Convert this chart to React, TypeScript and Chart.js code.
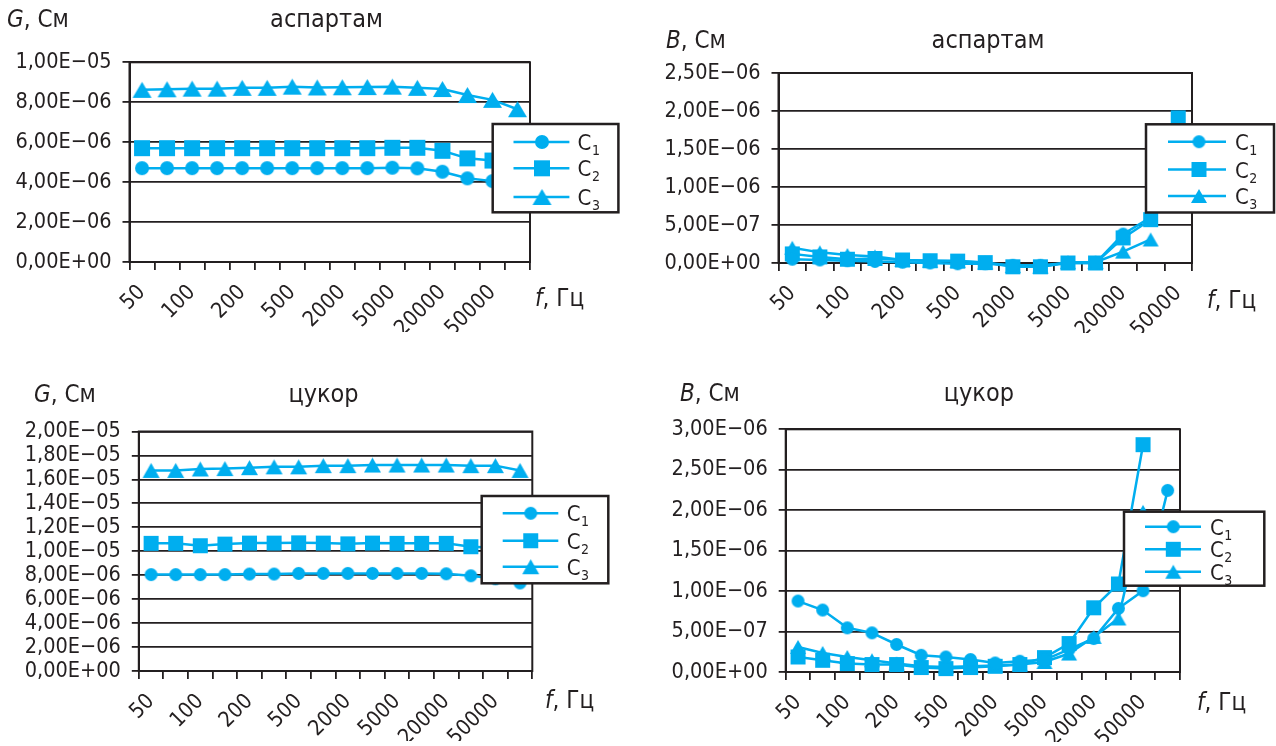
import React, { useEffect, useRef } from 'react';
import { Chart, registerables } from 'chart.js';

Chart.register(...registerables);

const FONT = "'DejaVu Sans Condensed', 'DejaVu Sans', sans-serif";
const BLUE = '#00aeef';
const INK = '#231f20';

// ---------- data ----------
const freq16 = ['50', '70', '100', '150', '200', '300', '500', '1000', '2000', '3000', '5000', '10000', '20000', '30000', '50000', '100000'];
const freq15 = ['50', '70', '100', '150', '200', '300', '500', '1000', '2000', '3000', '5000', '10000', '20000', '30000', '50000'];
const shownTicks = ['50', '100', '200', '500', '2000', '5000', '20000', '50000'];
const seriesNames = ['C', 'C', 'C'];
const seriesSubs = ['1', '2', '3'];

// G, aspartame (S)
const gAspC1 = [4.70e-6, 4.70e-6, 4.70e-6, 4.70e-6, 4.70e-6, 4.70e-6, 4.70e-6, 4.70e-6, 4.70e-6, 4.70e-6, 4.72e-6, 4.69e-6, 4.52e-6, 4.19e-6, 4.05e-6, 3.90e-6];
const gAspC2 = [5.70e-6, 5.70e-6, 5.70e-6, 5.70e-6, 5.70e-6, 5.70e-6, 5.70e-6, 5.70e-6, 5.70e-6, 5.70e-6, 5.72e-6, 5.72e-6, 5.57e-6, 5.19e-6, 5.08e-6, 4.95e-6];
const gAspC3 = [8.62e-6, 8.65e-6, 8.68e-6, 8.68e-6, 8.72e-6, 8.72e-6, 8.78e-6, 8.74e-6, 8.75e-6, 8.76e-6, 8.78e-6, 8.72e-6, 8.66e-6, 8.36e-6, 8.12e-6, 7.65e-6];

// B, aspartame (S)
const bAspC1 = [0.05e-6, 0.04e-6, 0.03e-6, 0.02e-6, 0.01e-6, 0.0, -0.01e-6, -0.01e-6, -0.03e-6, -0.03e-6, 0.0, 0.0, 0.38e-6, 0.60e-6, null];
const bAspC2 = [0.12e-6, 0.08e-6, 0.05e-6, 0.06e-6, 0.04e-6, 0.03e-6, 0.025e-6, 0.005e-6, -0.05e-6, -0.05e-6, 0.0, 0.0, 0.33e-6, 0.57e-6, 1.91e-6];
const bAspC3 = [0.20e-6, 0.14e-6, 0.105e-6, 0.085e-6, 0.04e-6, 0.03e-6, 0.025e-6, 0.005e-6, -0.04e-6, -0.05e-6, 0.01e-6, 0.01e-6, 0.15e-6, 0.31e-6, null];

// G, sugar (S)
const gSugC1 = [8.05e-6, 8.05e-6, 8.05e-6, 8.05e-6, 8.10e-6, 8.10e-6, 8.15e-6, 8.15e-6, 8.15e-6, 8.15e-6, 8.15e-6, 8.15e-6, 8.12e-6, 7.95e-6, 7.70e-6, 7.35e-6];
const gSugC2 = [10.66e-6, 10.66e-6, 10.46e-6, 10.60e-6, 10.68e-6, 10.68e-6, 10.70e-6, 10.68e-6, 10.62e-6, 10.68e-6, 10.66e-6, 10.66e-6, 10.66e-6, 10.38e-6, 10.30e-6, 10.20e-6];
const gSugC3 = [16.75e-6, 16.75e-6, 16.87e-6, 16.90e-6, 16.98e-6, 17.05e-6, 17.05e-6, 17.15e-6, 17.15e-6, 17.20e-6, 17.20e-6, 17.20e-6, 17.20e-6, 17.15e-6, 17.15e-6, 16.75e-6];

// B, sugar (S)
const bSugC1 = [0.877e-6, 0.766e-6, 0.546e-6, 0.484e-6, 0.34e-6, 0.207e-6, 0.186e-6, 0.154e-6, 0.112e-6, 0.133e-6, 0.15e-6, 0.28e-6, 0.414e-6, 0.786e-6, 1.005e-6, 2.245e-6];
const bSugC2 = [0.186e-6, 0.145e-6, 0.104e-6, 0.092e-6, 0.092e-6, 0.055e-6, 0.042e-6, 0.055e-6, 0.071e-6, 0.092e-6, 0.178e-6, 0.352e-6, 0.794e-6, 1.088e-6, 2.81e-6, null];
const bSugC3 = [0.31e-6, 0.236e-6, 0.186e-6, 0.145e-6, 0.104e-6, 0.071e-6, 0.063e-6, 0.071e-6, 0.08e-6, 0.092e-6, 0.124e-6, 0.228e-6, 0.434e-6, 0.662e-6, 1.98e-6, null];

// ---------- helpers ----------
function sci(v: number): string {
  if (Math.abs(v) < 1e-20) return '0,00E+00';
  let exp = Math.floor(Math.log10(Math.abs(v)));
  let m = (v / Math.pow(10, exp)).toFixed(2);
  if (m === '10.00') {
    exp += 1;
    m = (v / Math.pow(10, exp)).toFixed(2);
  }
  const sign = exp < 0 ? '\u2212' : '+';
  return m.replace('.', ',') + 'E' + sign + String(Math.abs(exp)).padStart(2, '0');
}

type MarkerSizes = { circle: number; square: number; tri: [number, number] };

function makeMarker(kind: string, s: MarkerSizes): HTMLCanvasElement {
  const c = document.createElement('canvas');
  let w = 0, h = 0;
  if (kind === 'circle') { w = s.circle; h = s.circle; }
  else if (kind === 'square') { w = s.square; h = s.square; }
  else { w = s.tri[0]; h = s.tri[1]; }
  c.width = Math.ceil(w) + 2;
  c.height = Math.ceil(h) + 2;
  const x = c.getContext('2d')!;
  x.fillStyle = BLUE;
  const cx = c.width / 2, cy = c.height / 2;
  x.beginPath();
  if (kind === 'circle') {
    x.arc(cx, cy, w / 2, 0, Math.PI * 2);
  } else if (kind === 'square') {
    x.rect(cx - w / 2, cy - h / 2, w, h);
  } else {
    x.moveTo(cx, cy - h / 2);
    x.lineTo(cx + w / 2, cy + h / 2);
    x.lineTo(cx - w / 2, cy + h / 2);
    x.closePath();
  }
  x.fill();
  return c;
}

type Spec = {
  cats: string[];
  series: (number | null)[][];
  yMax: number;
  yStep: number;
  plot: { l: number; r: number; t: number; b: number };
  markers: MarkerSizes;
  yItalic: string;
  yTitle: { x: number; y: number };
  title: { text: string; cx: number; y: number };
  xTitle: { x: number; y: number };
  legend: { x0: number; y0: number; x1: number; y1: number; rows: number[]; lx0: number; lx1: number; mx: number; tx: number };
};

const SPECS: Spec[] = [
  {
    cats: freq16, series: [gAspC1, gAspC2, gAspC3], yMax: 1e-5, yStep: 2e-6,
    plot: { l: 129.5, r: 530, t: 62.3, b: 262 },
    markers: { circle: 14, square: 16, tri: [19, 16] },
    yItalic: 'G', yTitle: { x: 7, y: 27 },
    title: { text: 'аспартам', cx: 326.5, y: 27 },
    xTitle: { x: 535, y: 306 },
    legend: { x0: 492.7, y0: 124, x1: 618.4, y1: 212.3, rows: [142, 168.3, 197], lx0: 513.5, lx1: 569.4, mx: 542, tx: 577.6 },
  },
  {
    cats: freq15, series: [bAspC1, bAspC2, bAspC3], yMax: 2.5e-6, yStep: 5e-7,
    plot: { l: 778.5, r: 1192, t: 73, b: 263 },
    markers: { circle: 13, square: 15, tri: [16, 14] },
    yItalic: 'B', yTitle: { x: 666, y: 48 },
    title: { text: 'аспартам', cx: 988, y: 48 },
    xTitle: { x: 1207, y: 308 },
    legend: { x0: 1146, y0: 124.3, x1: 1274, y1: 212.5, rows: [141.7, 169.5, 196], lx0: 1168, lx1: 1226, mx: 1199, tx: 1235 },
  },
  {
    cats: freq16, series: [gSugC1, gSugC2, gSugC3], yMax: 2e-5, yStep: 2e-6,
    plot: { l: 138.8, r: 532.3, t: 431.5, b: 671 },
    markers: { circle: 13, square: 15, tri: [17, 15] },
    yItalic: 'G', yTitle: { x: 34, y: 401.7 },
    title: { text: 'цукор', cx: 323.5, y: 401.7 },
    xTitle: { x: 545, y: 708 },
    legend: { x0: 481.7, y0: 496, x1: 608.3, y1: 583.3, rows: [513.3, 540.7, 566.7], lx0: 502.7, lx1: 558.3, mx: 530.7, tx: 566.7 },
  },
  {
    cats: freq16, series: [bSugC1, bSugC2, bSugC3], yMax: 3e-6, yStep: 5e-7,
    plot: { l: 785.7, r: 1180, t: 429.3, b: 672 },
    markers: { circle: 13, square: 15, tri: [16, 14] },
    yItalic: 'B', yTitle: { x: 680, y: 400.7 },
    title: { text: 'цукор', cx: 978.8, y: 400.7 },
    xTitle: { x: 1197, y: 710 },
    legend: { x0: 1124, y0: 511.7, x1: 1264.3, y1: 585.7, rows: [526.7, 549.3, 571.7], lx0: 1145, lx1: 1201, mx: 1173.3, tx: 1210 },
  },
];

const W = 1276;
const H = 746;
const Y_W = 125;
const X_H = 70;
const TICK_PX = 21.5;
const TITLE_PX = 24;
const GRID_W = 1.8;

function drawMixed(ctx: CanvasRenderingContext2D, x: number, y: number, italic: string, rest: string, size: number) {
  ctx.fillStyle = INK;
  ctx.textBaseline = 'alphabetic';
  ctx.textAlign = 'left';
  ctx.font = `italic ${size}px ${FONT}`;
  ctx.fillText(italic, x, y);
  const w = ctx.measureText(italic).width;
  ctx.font = `${size}px ${FONT}`;
  ctx.fillText(rest, x + w, y);
}

function buildChart(canvas: HTMLCanvasElement, spec: Spec): Chart {
  const kinds = ['circle', 'square', 'triangle'];
  const imgs = kinds.map((k) => makeMarker(k, spec.markers));
  const labels = spec.cats;

  const decor = {
    id: 'decor',
    beforeDatasetsDraw(chart: any) {
      const { ctx, chartArea } = chart;
      ctx.save();
      ctx.strokeStyle = INK;
      ctx.lineWidth = 2;
      ctx.strokeRect(chartArea.left, chartArea.top, chartArea.right - chartArea.left, chartArea.bottom - chartArea.top);
      ctx.restore();
    },
    afterDraw(chart: any) {
      const ctx: CanvasRenderingContext2D = chart.ctx;
      ctx.save();
      drawMixed(ctx, spec.yTitle.x, spec.yTitle.y, spec.yItalic, ', См', TITLE_PX);
      drawMixed(ctx, spec.xTitle.x, spec.xTitle.y, 'f', ', Гц', TITLE_PX);
      ctx.font = `${TITLE_PX + 1}px ${FONT}`;
      ctx.textAlign = 'center';
      ctx.fillStyle = INK;
      ctx.fillText(spec.title.text, spec.title.cx, spec.title.y);

      const L = spec.legend;
      ctx.fillStyle = '#ffffff';
      ctx.fillRect(L.x0, L.y0, L.x1 - L.x0, L.y1 - L.y0);
      ctx.strokeStyle = INK;
      ctx.lineWidth = 2.5;
      ctx.strokeRect(L.x0, L.y0, L.x1 - L.x0, L.y1 - L.y0);
      L.rows.forEach((ry, i) => {
        ctx.strokeStyle = BLUE;
        ctx.lineWidth = 2.5;
        ctx.beginPath();
        ctx.moveTo(L.lx0, ry);
        ctx.lineTo(L.lx1, ry);
        ctx.stroke();
        const im = imgs[i];
        ctx.drawImage(im, L.mx - im.width / 2, ry - im.height / 2);
        ctx.fillStyle = INK;
        ctx.textAlign = 'left';
        ctx.font = `22px ${FONT}`;
        ctx.fillText(seriesNames[i], L.tx, ry + 8);
        const cw = ctx.measureText(seriesNames[i]).width;
        ctx.font = `14px ${FONT}`;
        ctx.fillText(seriesSubs[i], L.tx + cw + 0.5, ry + 13);
      });
      ctx.restore();
    },
  };

  return new Chart(canvas, {
    type: 'line',
    data: {
      labels,
      datasets: spec.series.map((d, i) => ({
        label: seriesNames[i] + seriesSubs[i],
        data: d,
        borderColor: BLUE,
        backgroundColor: BLUE,
        borderWidth: 2.5,
        pointStyle: imgs[i] as any,
        pointRadius: 8,
        pointHoverRadius: 8,
        clip: false as any,
        spanGaps: false,
        tension: 0,
      })),
    },
    options: {
      responsive: false,
      animation: false,
      devicePixelRatio: 1,
      events: [],
      layout: {
        padding: {
          left: spec.plot.l - Y_W,
          right: W - spec.plot.r,
          top: spec.plot.t,
          bottom: H - spec.plot.b - X_H,
        },
      },
      plugins: {
        legend: { display: false },
        tooltip: { enabled: false },
        title: { display: false },
      },
      scales: {
        x: {
          type: 'category',
          offset: true,
          grid: {
            offset: true,
            drawOnChartArea: false,
            drawTicks: true,
            tickLength: 8,
            color: INK,
            lineWidth: GRID_W,
          },
          border: { display: true, color: INK, width: 2 },
          ticks: {
            autoSkip: false,
            minRotation: 45,
            maxRotation: 45,
            padding: 10,
            color: INK,
            font: { family: FONT, size: TICK_PX },
            callback: (_v: any, i: number) => (i % 2 === 0 ? shownTicks[i / 2] ?? '' : ''),
          },
          afterFit: (s: any) => { s.height = X_H; },
        },
        y: {
          type: 'linear',
          min: 0,
          max: spec.yMax,
          ticks: {
            autoSkip: false,
            stepSize: spec.yStep,
            padding: 11,
            color: INK,
            font: { family: FONT, size: TICK_PX },
            callback: (v: any) => sci(Number(v)),
          },
          grid: { color: INK, lineWidth: GRID_W, tickLength: 7 },
          border: { display: true, color: INK, width: 2 },
          afterFit: (s: any) => { s.width = Y_W; },
        },
      },
    } as any,
    plugins: [decor],
  });
}

function Panel({ spec }: { spec: Spec }) {
  const ref = useRef<HTMLCanvasElement | null>(null);
  useEffect(() => {
    if (!ref.current) return;
    const ch = buildChart(ref.current, spec);
    return () => ch.destroy();
  }, [spec]);
  return (
    <canvas
      ref={ref}
      width={W}
      height={H}
      style={{ position: 'absolute', left: 0, top: 0, width: W, height: H }}
    />
  );
}

export default function App() {
  return (
    <div style={{ position: 'fixed', left: 0, top: 0, width: W, height: H, background: '#ffffff', overflow: 'hidden' }}>
      {SPECS.map((s, i) => (
        <Panel key={i} spec={s} />
      ))}
    </div>
  );
}
